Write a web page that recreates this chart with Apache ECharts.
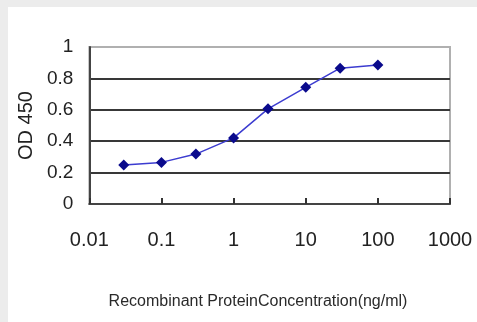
<!DOCTYPE html>
<html>
<head>
<meta charset="utf-8">
<script src="https://cdn.jsdelivr.net/npm/echarts@6/dist/echarts.min.js"></script>
<style>
html,body{margin:0;padding:0;background:#ececec;width:477px;height:322px;overflow:hidden;}
#c{position:absolute;left:8px;top:7px;width:469px;height:315px;background:#ffffff;}
</style>
</head>
<body>
<div id="c"></div>
<script>
// Data
var concentrations = [0.03, 0.1, 0.3, 1, 3, 10, 30, 100];
var od450 = [0.248, 0.265, 0.318, 0.421, 0.606, 0.743, 0.865, 0.885];
var xTickLabels = ['0.01', '0.1', '1', '10', '100', '1000'];
var yTickLabels = ['0', '0.2', '0.4', '0.6', '0.8', '1'];
var xTitle = 'Recombinant ProteinConcentration(ng/ml)';
var yTitle = 'OD 450';

var points = concentrations.map(function (c, i) { return [c, od450[i]]; });

var chart = echarts.init(document.getElementById('c'), null, {renderer: 'canvas'});
chart.setOption({
  animation: false,
  title: {
    text: xTitle,
    left: 250,
    top: 287,
    textAlign: 'center',
    padding: 0,
    textStyle: {fontFamily: 'Liberation Sans', fontSize: 16, fontWeight: 'normal', color: '#2a2a2a'}
  },
  grid: {
    left: 81, right: 27, top: 40, bottom: 118,
    show: true, borderColor: '#b0b0b0', borderWidth: 2, backgroundColor: 'transparent'
  },
  xAxis: {
    type: 'log',
    logBase: 10,
    min: 0.01,
    max: 1000,
    axisLine: {lineStyle: {color: '#444', width: 2}},
    axisTick: {show: true, inside: true, length: 6, lineStyle: {color: '#333', width: 2}},
    minorTick: {show: false},
    splitLine: {show: false},
    axisLabel: {
      margin: 26,
      fontFamily: 'Liberation Sans',
      fontSize: 20,
      color: '#222',
      formatter: function (v, idx) { return xTickLabels[idx]; }
    }
  },
  yAxis: {
    type: 'value',
    min: 0,
    max: 1,
    interval: 0.2,
    name: yTitle,
    nameLocation: 'middle',
    nameRotate: 90,
    nameGap: 52,
    nameTextStyle: {fontFamily: 'Liberation Sans', fontSize: 20, color: '#222'},
    axisLine: {show: true, lineStyle: {color: '#444', width: 2}},
    axisTick: {show: false},
    splitLine: {show: true, lineStyle: {color: ['#383838', '#383838', '#383838', '#383838', '#383838', '#b0b0b0'], width: 2}},
    axisLabel: {
      margin: 16,
      fontFamily: 'Liberation Sans',
      fontSize: 19,
      color: '#222',
      formatter: function (v, idx) { return yTickLabels[idx]; }
    }
  },
  series: [{
    type: 'line',
    data: points,
    symbol: 'diamond',
    symbolSize: 11,
    lineStyle: {color: '#3c3cd0', width: 1.5},
    itemStyle: {color: '#0a0a8c'}
  }]
});
</script>
</body>
</html>
